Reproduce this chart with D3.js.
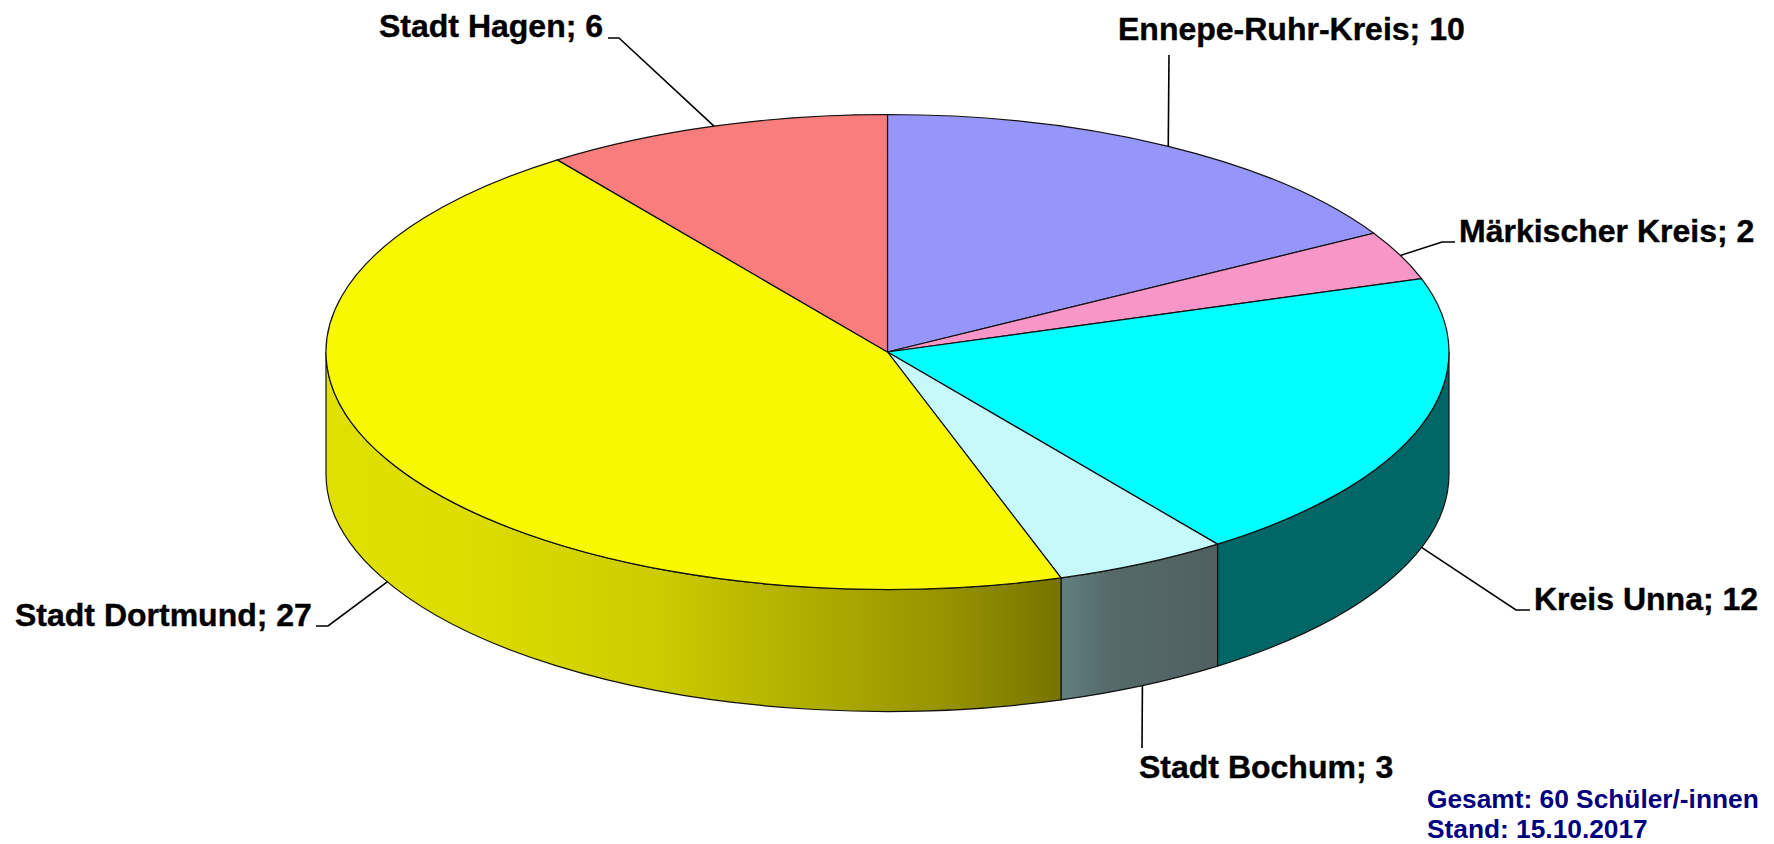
<!DOCTYPE html>
<html>
<head>
<meta charset="utf-8">
<title>Schüler/-innen nach Herkunft</title>
<script src="https://cdn.jsdelivr.net/npm/d3@7"></script>
<style>
  html, body { margin: 0; padding: 0; background: #fff; }
  svg { display: block; }
  text { font-family: "Liberation Sans", Arial, sans-serif; font-weight: bold; }
</style>
</head>
<body>
<svg id="chart" width="1774" height="844"></svg>
<script>
/// Data
const regions = ['Ennepe-Ruhr-Kreis', 'Märkischer Kreis', 'Kreis Unna', 'Stadt Bochum', 'Stadt Dortmund', 'Stadt Hagen'];
const pupils = [10, 2, 12, 3, 27, 6];
const topColors = ['#9696fa', '#f896c8', '#00ffff', '#c6f9f9', '#f8f800', '#fa7d7d'];
const footerLines = ['Gesamt: 60 Schüler/-innen', 'Stand: 15.10.2017'];

/// Layout
const cx = 887.5, cy = 352, rx = 561.5, ry = 237.5, depth = 122;

// text position and leader elbows, same order as regions
const labelLayout = [
    { x: 1118, y: 40, elbows: [[1169, 55]] },
    { x: 1459, y: 242, elbows: [[1442, 242], [1455, 242]] },
    { x: 1534, y: 610, elbows: [[1516, 610], [1530, 610]] },
    { x: 1139, y: 778, elbows: [[1142, 748]] },
    { x: 15, y: 626, elbows: [[328, 626], [316, 626]] },
    { x: 379, y: 37, elbows: [[619, 38], [608, 38]] }
];

// side wall shading, offsets are along the wall from left to right
const wallShades = {
    4: [[0, '#e0e000'], [0.2, '#dcdc00'], [0.45, '#cccc00'], [0.65, '#b0ae00'], [0.85, '#959200'], [1, '#777400']],
    3: [[0, '#628080'], [0.3, '#566a6a'], [1, '#506060']],
    2: [[0, '#006666'], [1, '#006666']]
};

const svg = d3.select('#chart');
const defs = svg.append('defs');

const slices = d3.pie().sort(null).value(d => d)(pupils);

// point on the rim of the top ellipse, angle clockwise from 12 o'clock
function rim(angle, drop = 0) {
    return [cx + rx * Math.sin(angle), cy - ry * Math.cos(angle) + drop];
}

////// Side walls (front half only) ///////
const rightEnd = Math.PI / 2, leftEnd = Math.PI * 1.5;

slices.forEach((s, i) => {
    const a0 = Math.max(s.startAngle, rightEnd);
    const a1 = Math.min(s.endAngle, leftEnd);
    if (a0 >= a1) return;

    const p0 = rim(a0), p1 = rim(a1);
    const q0 = rim(a0, depth), q1 = rim(a1, depth);
    const x0 = Math.min(p0[0], p1[0]), x1 = Math.max(p0[0], p1[0]);

    const grad = defs.append('linearGradient')
        .attr('id', `wall-${i}`)
        .attr('gradientUnits', 'userSpaceOnUse')
        .attr('x1', x0).attr('x2', x1)
        .attr('y1', 0).attr('y2', 0);
    grad.selectAll('stop')
        .data(wallShades[i])
        .join('stop')
        .attr('offset', d => d[0])
        .attr('stop-color', d => d[1]);

    svg.append('path')
        .attr('d', `M${p0}A${rx},${ry} 0 0 1 ${p1}L${q1}A${rx},${ry} 0 0 0 ${q0}Z`)
        .attr('fill', `url(#wall-${i})`)
        .attr('stroke', '#111')
        .attr('stroke-width', 1.2);
});

////// Top of the pie ///////
const unit = 1000;
const arcGenerator = d3.arc().innerRadius(0).outerRadius(unit);

svg.append('g')
    .attr('transform', `translate(${cx},${cy}) scale(${rx / unit},${ry / unit})`)
    .selectAll('path')
    .data(slices)
    .join('path')
    .attr('d', arcGenerator)
    .attr('fill', (d, i) => topColors[i])
    .attr('stroke', '#111')
    .attr('stroke-width', 1.2)
    .attr('vector-effect', 'non-scaling-stroke');

////// Leaders and labels ///////
const leader = d3.line();

slices.forEach((s, i) => {
    const mid = (s.startAngle + s.endAngle) / 2;
    // leaders of the front slices start on the lower rim
    const onFront = Math.cos(mid) < 0;
    const start = rim(mid, onFront ? depth : 0);

    svg.append('path')
        .attr('d', leader([start, ...labelLayout[i].elbows]))
        .attr('fill', 'none')
        .attr('stroke', '#000')
        .attr('stroke-width', 1.6);
});

// the original lettering is a little heavier, hence the thin stroke
svg.append('g')
    .selectAll('text')
    .data(regions)
    .join('text')
    .attr('x', (d, i) => labelLayout[i].x)
    .attr('y', (d, i) => labelLayout[i].y)
    .attr('font-size', 32)
    .attr('fill', '#000')
    .attr('stroke', '#000')
    .attr('stroke-width', 0.4)
    .text((d, i) => `${d}; ${pupils[i]}`);

svg.append('g')
    .selectAll('text')
    .data(footerLines)
    .join('text')
    .attr('x', 1427)
    .attr('y', (d, i) => 808 + i * 30)
    .attr('font-size', 26.3)
    .attr('fill', '#00007f')
    .text(d => d);
</script>
</body>
</html>
